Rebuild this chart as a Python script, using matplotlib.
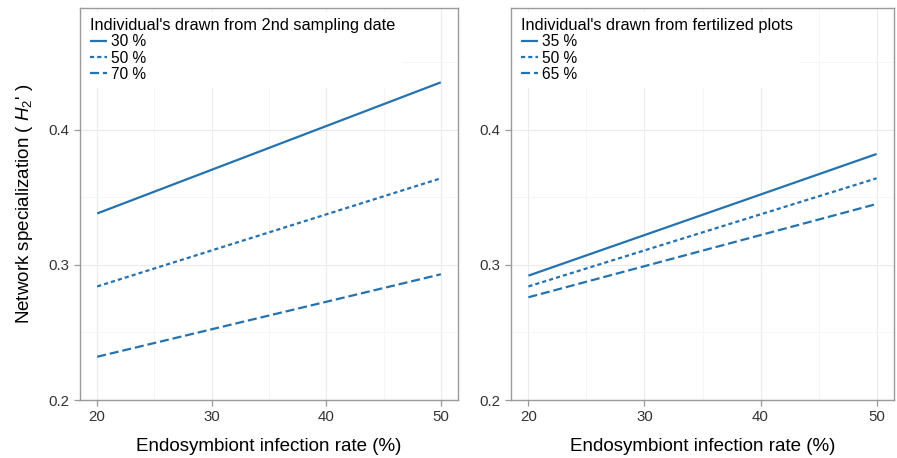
import matplotlib
matplotlib.use("Agg")
import matplotlib.pyplot as plt
from matplotlib.ticker import MultipleLocator

plt.rcParams['font.family'] = ['Liberation Sans', 'DejaVu Sans']
plt.rcParams['mathtext.fontset'] = 'custom'
plt.rcParams['mathtext.it'] = 'Liberation Sans:italic'
plt.rcParams['mathtext.rm'] = 'Liberation Sans'
plt.rcParams['lines.scale_dashes'] = False

# datos
infeccion = [20, 50]

titulo_izq = "Individual's drawn from 2nd sampling date"
etiquetas_izq = ['30 %', '50 %', '70 %']
h2_izq = [[0.338, 0.435],
          [0.284, 0.364],
          [0.232, 0.293]]

titulo_der = "Individual's drawn from fertilized plots"
etiquetas_der = ['35 %', '50 %', '65 %']
h2_der = [[0.292, 0.382],
          [0.284, 0.364],
          [0.276, 0.345]]

color = '#2472b0'
estilos = [(0, ()), (0, (3, 2.2)), (0, (6.5, 2.8))]

fig = plt.figure(figsize=(8.97, 4.58), dpi=100)
ax1 = fig.add_axes([80/897, 58/458, 378/897, 392/458])
ax2 = fig.add_axes([511/897, 58/458, 383/897, 392/458])

def panel(ax, valores, etiquetas, titulo):
    for v, et, ls in zip(valores, etiquetas, estilos):
        ax.plot(infeccion, v, color=color, lw=1.6, linestyle=ls, label=et)
    ax.set_xlim(18.5, 51.5)
    ax.set_ylim(0.2, 0.49)
    ax.xaxis.set_major_locator(MultipleLocator(10))
    ax.xaxis.set_minor_locator(MultipleLocator(5))
    ax.yaxis.set_major_locator(MultipleLocator(0.1))
    ax.yaxis.set_minor_locator(MultipleLocator(0.05))
    ax.yaxis.set_major_formatter(plt.FormatStrFormatter('%.1f'))
    ax.grid(which='major', color='#ebebeb', lw=0.8)
    ax.grid(which='minor', color='#f4f4f4', lw=0.6)
    ax.set_axisbelow(True)
    for s in ax.spines.values():
        s.set_color('#9a9a9a')
        s.set_linewidth(1.0)
    ax.tick_params(which='major', colors='#9a9a9a', labelcolor='#333333',
                   labelsize=10.8, length=4, width=0.9)
    ax.tick_params(which='minor', length=0)
    ax.set_xlabel('Endosymbiont infection rate (%)', fontsize=13.5, labelpad=10)
    leg = ax.legend(title=titulo, loc='upper left', frameon=True, fontsize=11.2,
                    title_fontsize=11.8, handlelength=1.1, handletextpad=0.25,
                    labelspacing=0.08, borderaxespad=0.25, borderpad=0.4,
                    alignment='left')
    leg.get_frame().set_edgecolor('none')
    leg.get_frame().set_facecolor('white')
    leg.get_frame().set_alpha(1)

panel(ax1, h2_izq, etiquetas_izq, titulo_izq)
panel(ax2, h2_der, etiquetas_der, titulo_der)

ax1.set_ylabel("Network specialization ( $H_2$' )", fontsize=13.5, labelpad=10)

fig.savefig('out.png', dpi=100)
